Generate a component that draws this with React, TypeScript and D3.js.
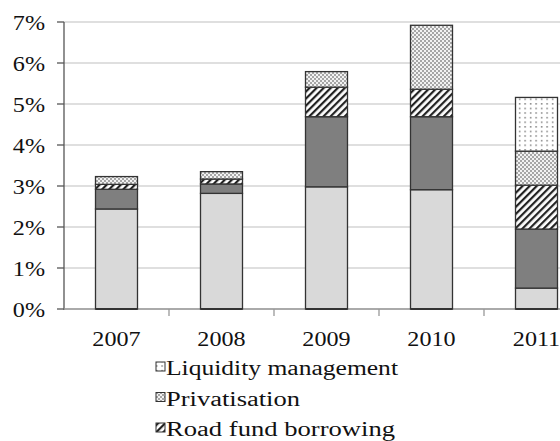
import React from "react";
import * as d3 from "d3";

// Financing components, share of GDP, stacked bottom to top
const years = ["2007", "2008", "2009", "2010", "2011"];
const baseFinancing = [2.44, 2.82, 2.98, 2.91, 0.51];
const otherFinancing = [0.48, 0.23, 1.71, 1.78, 1.44];
const roadFundBorrowing = [0.12, 0.12, 0.72, 0.67, 1.07];
const privatisation = [0.19, 0.18, 0.38, 1.56, 0.83];
const liquidityManagement = [0, 0, 0, 0, 1.31];
const yTicks = [0, 1, 2, 3, 4, 5, 6, 7];

const seriesKeys = ["base", "other", "road", "priv", "liq"];
const seriesValues: Record<string, number[]> = {
  base: baseFinancing,
  other: otherFinancing,
  road: roadFundBorrowing,
  priv: privatisation,
  liq: liquidityManagement,
};
const legendItems = [
  { key: "liq", label: "Liquidity management", len: 232 },
  { key: "priv", label: "Privatisation", len: 134 },
  { key: "road", label: "Road fund borrowing", len: 229 },
];

const fills: Record<string, string> = {
  base: "#d9d9d9",
  other: "#7f7f7f",
  road: "url(#hatch)",
  priv: "url(#checker)",
  liq: "url(#dots)",
};

const W = 560;
const H = 441;
const FONT = "Liberation Serif, serif";

export default function App() {
  const x = d3
    .scaleBand<string>()
    .domain(years)
    .range([64, 589])
    .paddingInner(0.6)
    .paddingOuter(0.3);
  const y = d3.scaleLinear().domain([0, 7]).range([309, 22]);

  const table = years.map((yr, i) => {
    const row: Record<string, number | string> = { year: yr };
    seriesKeys.forEach((k) => (row[k] = seriesValues[k][i]));
    return row;
  });
  const stacked = d3.stack<any>().keys(seriesKeys)(table);

  const step = x.step();
  const boundaries = years.slice(1).map((yr) => (x(yr) as number) - (step - x.bandwidth()) / 2);

  return (
    <svg
      width={W}
      height={H}
      style={{ position: "absolute", left: 0, top: 0, display: "block", background: "#fff" }}
    >
      <defs>
        <pattern id="hatch" width="5" height="5" patternUnits="userSpaceOnUse" patternTransform="rotate(45)">
          <rect width="5" height="5" fill="#fff" />
          <rect width="2.2" height="5" fill="#222" />
        </pattern>
        <pattern id="checker" width="4" height="4" patternUnits="userSpaceOnUse">
          <rect width="4" height="4" fill="#f2f2f2" />
          <rect x="0" y="0" width="2" height="2" fill="#a6a6a6" />
          <rect x="2" y="2" width="2" height="2" fill="#a6a6a6" />
        </pattern>
        <pattern id="dots" width="5.5" height="4.6" patternUnits="userSpaceOnUse">
          <rect width="5.5" height="4.6" fill="#fff" />
          <rect x="2" y="2" width="1.3" height="1.3" fill="#555" />
        </pattern>
      </defs>

      {/* gridlines */}
      {yTicks.map((t) => (
        <line key={"g" + t} x1={64} x2={W} y1={y(t)} y2={y(t)} stroke="#d4d4d4" strokeWidth={1.5} />
      ))}

      {/* y axis */}
      <line x1={64} x2={64} y1={y(7)} y2={y(0) + 1} stroke="#555" strokeWidth={1.3} />
      {yTicks.map((t) => (
        <g key={"yt" + t}>
          <line x1={57} x2={64} y1={y(t)} y2={y(t)} stroke="#555" strokeWidth={1.3} />
          <text
            transform={`translate(45,${y(t) + 8}) scale(1.15,1)`}
            textAnchor="end"
            fontFamily={FONT}
            fontSize={21}
            fill="#111"
          >
            {t}%
          </text>
        </g>
      ))}

      {/* x axis */}
      <line x1={64} x2={W} y1={y(0)} y2={y(0)} stroke="#999" strokeWidth={1.3} />
      {boundaries.map((b, i) => (
        <line key={"xt" + i} x1={b} x2={b} y1={y(0)} y2={y(0) + 7} stroke="#999" strokeWidth={1.3} />
      ))}
      {years.map((yr) => (
        <text
          key={"xl" + yr}
          transform={`translate(${(x(yr) as number) + x.bandwidth() / 2},346) scale(1.15,1)`}
          textAnchor="middle"
          fontFamily={FONT}
          fontSize={21}
          fill="#111"
        >
          {yr}
        </text>
      ))}

      {/* stacked bars */}
      {stacked.map((s) =>
        s.map((d, i) => {
          const h = y(d[0]) - y(d[1]);
          if (h <= 0) return null;
          return (
            <rect
              key={s.key + i}
              x={x(years[i]) as number}
              y={y(d[1])}
              width={x.bandwidth()}
              height={h}
              fill={fills[s.key]}
              stroke="#333"
              strokeWidth={1.3}
            />
          );
        })
      )}
      {years.map((yr) => (
        <line
          key={"bb" + yr}
          x1={x(yr) as number}
          x2={(x(yr) as number) + x.bandwidth()}
          y1={y(0)}
          y2={y(0)}
          stroke="#333"
          strokeWidth={2}
        />
      ))}

      {/* legend */}
      {legendItems.map((item, i) => {
        const base = 375 + i * 30.5;
        return (
          <g key={"lg" + item.key}>
            <rect x={156} y={base - 13} width={9} height={9} fill={fills[item.key]} stroke="#333" strokeWidth={1} />
            <text
              x={166}
              y={base}
              fontFamily={FONT}
              fontSize={20}
              fill="#111"
              textLength={item.len}
              lengthAdjust="spacingAndGlyphs"
            >
              {item.label}
            </text>
          </g>
        );
      })}
    </svg>
  );
}
